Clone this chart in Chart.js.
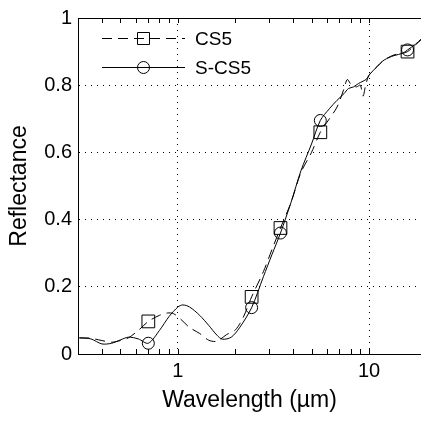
<!DOCTYPE html>
<html>
<head>
<meta charset="utf-8">
<script src="https://cdn.jsdelivr.net/npm/chart.js@4.4.0/dist/chart.umd.min.js"></script>
<style>
  html, body { margin: 0; padding: 0; background: #fff; }
</style>
</head>
<body>
<canvas id="myChart" width="421" height="422"></canvas>
<script>
// CS5 (dashed, squares)
const wlCS5 = [0.305, 0.35, 0.4, 0.45, 0.5, 0.55, 0.62, 0.7, 0.8, 0.88, 0.95, 1.05, 1.15, 1.3, 1.45, 1.6, 1.8, 2.0, 2.2, 2.43,
  2.8, 3.1, 3.44, 3.9, 4.4, 5.0, 5.56, 6.2, 6.8, 7.4, 7.7, 8.1, 8.6, 9.0, 9.3, 9.6, 10.0, 11.0, 12.0, 13.5, 15.0, 15.9, 17.5, 18.7];
const cs5 = [0.048, 0.047, 0.040, 0.035, 0.040, 0.048, 0.070, 0.097, 0.115, 0.122, 0.120, 0.100, 0.079, 0.061, 0.041, 0.038, 0.058, 0.072, 0.110, 0.170,
  0.245, 0.310, 0.375, 0.450, 0.540, 0.600, 0.660, 0.700, 0.735, 0.790, 0.817, 0.800, 0.795, 0.800, 0.767, 0.800, 0.830, 0.855, 0.875, 0.890, 0.895, 0.900, 0.920, 0.935];

// S-CS5 (solid, circles)
const wlSCS5 = [0.305, 0.35, 0.4, 0.45, 0.5, 0.55, 0.62, 0.7, 0.8, 0.9, 1.0, 1.06, 1.15, 1.3, 1.45, 1.6, 1.71, 1.9, 2.1, 2.43,
  2.8, 3.1, 3.44, 3.9, 4.4, 5.0, 5.56, 6.2, 6.8, 7.4, 7.8, 8.3, 8.8, 9.3, 9.7, 10.0, 11.0, 12.0, 13.5, 15.0, 15.9, 17.5, 18.7];
const scs5 = [0.048, 0.045, 0.030, 0.032, 0.042, 0.050, 0.045, 0.032, 0.070, 0.112, 0.140, 0.146, 0.140, 0.115, 0.085, 0.056, 0.044, 0.050, 0.078, 0.138,
  0.230, 0.295, 0.360, 0.450, 0.545, 0.625, 0.695, 0.730, 0.755, 0.775, 0.790, 0.795, 0.805, 0.812, 0.818, 0.830, 0.855, 0.875, 0.888, 0.895, 0.905, 0.922, 0.937];

// wavelengths that carry a marker
const markerWl = [0.7, 2.43, 3.44, 5.56, 15.9];

// axis ticks
const xTickVals = [1, 10];
const xMinorVals = [0.4, 0.5, 0.6, 0.7, 0.8, 0.9, 2, 3, 4, 5, 6, 7, 8, 9];
const yTickVals = [0, 0.2, 0.4, 0.6, 0.8, 1];

const FONT = 'Liberation Sans, Arial, sans-serif';

function toPoints(xs, ys) {
  return xs.map((x, i) => ({ x: x, y: ys[i] }));
}

// top frame line, inward tick marks and the in-plot legend
const framePlugin = {
  id: 'frame',
  afterDraw(chart) {
    const { ctx, chartArea: a, scales: { x } } = chart;
    ctx.save();
    ctx.strokeStyle = '#000';
    ctx.lineWidth = 1;
    ctx.setLineDash([]);
    ctx.beginPath();
    ctx.moveTo(a.left, a.top + 0.5);
    ctx.lineTo(a.right, a.top + 0.5);
    xMinorVals.concat(xTickVals).forEach(v => {
      const px = Math.round(x.getPixelForValue(v)) + 0.5;
      ctx.moveTo(px, a.bottom);
      ctx.lineTo(px, a.bottom - 5);
      ctx.moveTo(px, a.top);
      ctx.lineTo(px, a.top + 5);
    });
    ctx.stroke();

    // legend
    const rows = [
      { ds: chart.data.datasets[0], y: a.top + 20.5 },
      { ds: chart.data.datasets[1], y: a.top + 49.5 }
    ];
    const x1 = a.left + 24, x2 = a.left + 107, mx = a.left + 65.5;
    ctx.font = '19px ' + FONT;
    ctx.fillStyle = '#000';
    ctx.textBaseline = 'middle';
    rows.forEach(r => {
      ctx.setLineDash(r.ds.borderDash || []);
      ctx.beginPath();
      ctx.moveTo(x1, r.y);
      ctx.lineTo(x2, r.y);
      ctx.stroke();
      ctx.setLineDash([]);
      ctx.beginPath();
      if (r.ds.pointStyle === 'rect') {
        ctx.rect(mx - 6, r.y - 6, 12, 12);
      } else {
        ctx.arc(mx, r.y, 6, 0, Math.PI * 2);
      }
      ctx.stroke();
      ctx.fillText(r.ds.label, a.left + 117, r.y + 1);
    });
    ctx.restore();
  }
};

const ctx = document.getElementById('myChart').getContext('2d');
const chart = new Chart(ctx, {
  type: 'line',
  data: {
    datasets: [{
      label: 'CS5',
      data: toPoints(wlCS5, cs5),
      borderColor: '#000',
      borderWidth: 1,
      borderDash: [10, 6],
      tension: 0.3,
      fill: false,
      pointStyle: 'rect',
      pointRadius: c => markerWl.includes(c.raw.x) ? 9 : 0,
      pointBorderColor: '#000',
      pointBackgroundColor: 'rgba(0,0,0,0)',
      pointBorderWidth: 1
    }, {
      label: 'S-CS5',
      data: toPoints(wlSCS5, scs5),
      borderColor: '#000',
      borderWidth: 1,
      tension: 0.3,
      fill: false,
      pointStyle: 'circle',
      pointRadius: c => markerWl.includes(c.raw.x) ? 6 : 0,
      pointBorderColor: '#000',
      pointBackgroundColor: 'rgba(0,0,0,0)',
      pointBorderWidth: 1
    }]
  },
  options: {
    responsive: false,
    animation: false,
    devicePixelRatio: 1,
    layout: { padding: { top: 13, right: 0, bottom: 0, left: 0 } },
    plugins: {
      legend: { display: false },
      tooltip: { enabled: false }
    },
    scales: {
      x: {
        type: 'logarithmic',
        min: 0.305,
        max: 18.7,
        afterBuildTicks: s => { s.ticks = xTickVals.map(v => ({ value: v })); },
        afterFit: s => { s.height = 68; },
        ticks: {
          callback: v => String(v),
          color: '#000',
          font: { family: FONT, size: 20 },
          padding: 5,
          maxRotation: 0,
          autoSkip: false
        },
        grid: { color: '#000', lineWidth: 1, drawTicks: false },
        border: { color: '#000', width: 1, dash: [1, 5] },
        title: {
          display: true,
          text: 'Wavelength (\u00b5m)',
          color: '#000',
          font: { family: FONT, size: 23 },
          padding: { top: 0, bottom: 8 }
        }
      },
      y: {
        min: 0,
        max: 1,
        afterBuildTicks: s => { s.ticks = yTickVals.map(v => ({ value: v })); },
        afterFit: s => { s.width = 78; },
        ticks: {
          callback: v => String(v),
          color: '#000',
          font: { family: FONT, size: 20 },
          padding: 6
        },
        grid: {
          color: c => (c.tick && (c.tick.value === 0 || c.tick.value === 1)) ? 'rgba(0,0,0,0)' : '#000',
          lineWidth: 1,
          drawTicks: false
        },
        border: { color: '#000', width: 1, dash: [1, 5] },
        title: {
          display: true,
          text: 'Reflectance',
          color: '#000',
          font: { family: FONT, size: 23 },
          padding: { top: 6, bottom: 0 }
        }
      }
    }
  },
  plugins: [framePlugin]
});
</script>
</body>
</html>
